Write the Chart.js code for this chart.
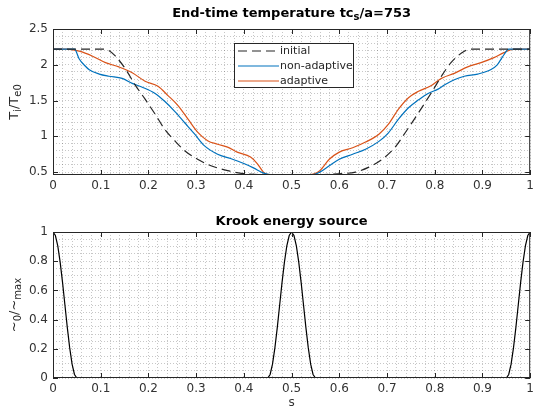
<!DOCTYPE html>
<html>
<head>
<meta charset="utf-8">
<script src="https://cdn.jsdelivr.net/npm/chart.js@4.4.1/dist/chart.umd.min.js"></script>
<style>
  body { margin: 0; background: #fff; }
  #wrap { position: relative; width: 538px; height: 410px; }
  canvas { position: absolute; left: 0; }
</style>
</head>
<body>
<div id="wrap">
  <canvas id="top" width="538" height="205" style="top:0"></canvas>
  <canvas id="bot" width="538" height="205" style="top:205px"></canvas>
</div>
<script>
// end-time temperature, T_i/T_e0 against s
var sInitial = [0, 0.103, 0.117, 0.131, 0.152, 0.172, 0.193, 0.214, 0.234, 0.255, 0.276, 0.303, 0.331, 0.366, 0.4, 0.45, 0.55, 0.607, 0.634, 0.662, 0.69, 0.717, 0.738, 0.766, 0.793, 0.814, 0.834, 0.862, 0.876, 0.9, 1];
var tInitial = [2.22, 2.22, 2.2, 2.12, 1.94, 1.72, 1.52, 1.31, 1.10, 0.94, 0.80, 0.68, 0.59, 0.52, 0.48, 0.465, 0.465, 0.48, 0.5, 0.57, 0.68, 0.85, 1.05, 1.33, 1.61, 1.84, 2.03, 2.19, 2.22, 2.22, 2.22];

var sNonAdaptive = [0, 0.045, 0.055, 0.065, 0.076, 0.097, 0.117, 0.145, 0.166, 0.186, 0.214, 0.234, 0.255, 0.276, 0.297, 0.317, 0.345, 0.372, 0.4, 0.42, 0.44, 0.455, 0.545, 0.559, 0.579, 0.6, 0.628, 0.655, 0.683, 0.703, 0.724, 0.745, 0.766, 0.786, 0.807, 0.821, 0.841, 0.862, 0.89, 0.917, 0.931, 0.945, 0.955, 1];
var tNonAdaptive = [2.22, 2.22, 2.08, 2.0, 1.93, 1.87, 1.84, 1.81, 1.74, 1.69, 1.60, 1.49, 1.35, 1.19, 1.03, 0.87, 0.75, 0.69, 0.62, 0.56, 0.49, 0.465, 0.465, 0.5, 0.59, 0.68, 0.75, 0.82, 0.93, 1.05, 1.24, 1.40, 1.51, 1.60, 1.66, 1.72, 1.79, 1.84, 1.87, 1.93, 2.0, 2.14, 2.22, 2.22];

var sAdaptive = [0, 0.028, 0.055, 0.083, 0.11, 0.138, 0.166, 0.193, 0.22, 0.241, 0.262, 0.283, 0.303, 0.324, 0.345, 0.366, 0.386, 0.414, 0.428, 0.441, 0.452, 0.538, 0.559, 0.579, 0.6, 0.628, 0.655, 0.683, 0.703, 0.724, 0.745, 0.766, 0.793, 0.814, 0.841, 0.869, 0.897, 0.924, 0.945, 0.966, 1];
var tAdaptive = [2.22, 2.22, 2.19, 2.12, 2.03, 1.97, 1.89, 1.77, 1.70, 1.57, 1.43, 1.24, 1.06, 0.94, 0.89, 0.85, 0.78, 0.71, 0.62, 0.5, 0.465, 0.465, 0.52, 0.68, 0.78, 0.84, 0.92, 1.03, 1.17, 1.38, 1.54, 1.63, 1.71, 1.81, 1.88, 1.97, 2.03, 2.10, 2.17, 2.22, 2.22];

// krook energy source
var sKrook = [0, 0.005, 0.01, 0.015, 0.02, 0.025, 0.03, 0.035, 0.04, 0.045, 0.05,
  0.45, 0.455, 0.46, 0.465, 0.47, 0.475, 0.48, 0.485, 0.49, 0.495, 0.5, 0.505, 0.51, 0.515, 0.52, 0.525, 0.53, 0.535, 0.54, 0.545, 0.55,
  0.95, 0.955, 0.96, 0.965, 0.97, 0.975, 0.98, 0.985, 0.99, 0.995, 1];
var gKrook = [1, 0.976, 0.905, 0.794, 0.655, 0.5, 0.345, 0.206, 0.095, 0.024, 0,
  0, 0.024, 0.095, 0.206, 0.345, 0.5, 0.655, 0.794, 0.905, 0.976, 1, 0.976, 0.905, 0.794, 0.655, 0.5, 0.345, 0.206, 0.095, 0.024, 0,
  0, 0.024, 0.095, 0.206, 0.345, 0.5, 0.655, 0.794, 0.905, 0.976, 1];

var xTicks = [0, 0.1, 0.2, 0.3, 0.4, 0.5, 0.6, 0.7, 0.8, 0.9, 1];
var yTicksTop = [0.5, 1, 1.5, 2, 2.5];
var yTicksBot = [0, 0.2, 0.4, 0.6, 0.8, 1];

var FONT = "'DejaVu Sans', sans-serif";
Chart.defaults.font.family = FONT;
Chart.defaults.font.size = 12;
Chart.defaults.color = '#333';

function pts(xs, ys) {
  var out = [];
  for (var i = 0; i < xs.length; i++) out.push({x: xs[i], y: ys[i]});
  return out;
}

function isMajor(v, list) {
  for (var i = 0; i < list.length; i++) if (Math.abs(v - list[i]) < 1e-6) return true;
  return false;
}

// text with subscripts, parts = [[text, isSub], ...]
function drawRich(ctx, parts, x, y, size, bold, rotate) {
  var base = (bold ? 'bold ' : '') + size + 'px ' + FONT;
  var sub = (bold ? 'bold ' : '') + Math.round(size * 0.75) + 'px ' + FONT;
  ctx.save();
  ctx.translate(x, y);
  if (rotate) ctx.rotate(-Math.PI / 2);
  var w = 0;
  parts.forEach(function(p) { ctx.font = p[1] ? sub : base; w += ctx.measureText(p[0]).width; });
  var cx = -w / 2;
  ctx.fillStyle = bold ? '#000' : '#262626';
  ctx.textBaseline = 'alphabetic';
  ctx.textAlign = 'left';
  parts.forEach(function(p) {
    ctx.font = p[1] ? sub : base;
    ctx.fillText(p[0], cx, p[1] ? 3 : 0);
    cx += ctx.measureText(p[0]).width;
  });
  ctx.restore();
}

var framePlugin = {
  id: 'frame',
  afterDraw: function(chart, args, opts) {
    var ctx = chart.ctx, a = chart.chartArea;
    var xs = chart.scales.x, ys = chart.scales.y;
    ctx.save();
    ctx.strokeStyle = '#262626';
    ctx.lineWidth = 1;
    ctx.beginPath();
    xTicks.forEach(function(v) {
      var px = Math.round(xs.getPixelForValue(v)) + 0.5;
      ctx.moveTo(px, a.bottom); ctx.lineTo(px, a.bottom - 5);
      ctx.moveTo(px, a.top); ctx.lineTo(px, a.top + 5);
    });
    opts.yt.forEach(function(v) {
      var py = Math.round(ys.getPixelForValue(v)) + 0.5;
      ctx.moveTo(a.left, py); ctx.lineTo(a.left + 5, py);
      ctx.moveTo(a.right, py); ctx.lineTo(a.right - 5, py);
    });
    ctx.stroke();
    ctx.strokeRect(a.left + 0.5, a.top + 0.5, a.right - a.left - 1, a.bottom - a.top - 1);
    ctx.restore();
    drawRich(ctx, opts.title, (a.left + a.right) / 2, opts.titleY, 13, true, false);
    drawRich(ctx, opts.ylab, 18, (a.top + a.bottom) / 2, 13, false, true);
    if (opts.legend) {
      ctx.save();
      ctx.fillStyle = '#fff';
      ctx.fillRect(234.5, 43.5, 119, 44);
      ctx.strokeStyle = '#262626';
      ctx.strokeRect(234.5, 43.5, 119, 44);
      chart.data.datasets.forEach(function(ds, i) {
        var y = 51 + i * 15;
        ctx.beginPath();
        ctx.strokeStyle = ds.borderColor;
        ctx.lineWidth = ds.borderWidth;
        ctx.setLineDash(ds.borderDash || []);
        ctx.moveTo(238, y); ctx.lineTo(279, y);
        ctx.stroke();
        ctx.setLineDash([]);
        ctx.fillStyle = '#262626';
        ctx.font = '11px ' + FONT;
        ctx.textBaseline = 'middle';
        ctx.fillText(ds.label, 280, y);
      });
      ctx.restore();
    }
  }
};

function gridScale(min, max, step, major, xAxis, h) {
  return {
    type: 'linear', min: min, max: max,
    border: { display: false, dash: [1, 2] },
    grid: { color: 'rgba(0,0,0,0.22)', drawTicks: false, lineWidth: 1 },
    ticks: {
      stepSize: step, autoSkip: false, maxRotation: 0, padding: xAxis ? 4 : 5, includeBounds: false,
      font: { size: 12 }, color: '#333',
      callback: function(v) { return isMajor(v, major) ? String(Math.round(v * 10) / 10) : ''; }
    },
    afterFit: function(s) { if (xAxis) s.height = h; else s.width = 53; }
  };
}

new Chart(document.getElementById('top'), {
  type: 'line',
  data: {
    datasets: [
      { label: 'initial', data: pts(sInitial, tInitial), borderColor: '#262626', borderWidth: 1.2, borderDash: [9, 5] },
      { label: 'non-adaptive', data: pts(sNonAdaptive, tNonAdaptive), borderColor: '#0072BD', borderWidth: 1.2 },
      { label: 'adaptive', data: pts(sAdaptive, tAdaptive), borderColor: '#D95319', borderWidth: 1.2 }
    ]
  },
  options: {
    responsive: false, animation: false, devicePixelRatio: 1,
    layout: { padding: { top: 29, right: 1, left: 0, bottom: 0 } },
    elements: { point: { radius: 0 }, line: { cubicInterpolationMode: 'monotone' } },
    scales: {
      x: gridScale(0, 1, 0.02, xTicks, true, 30),
      y: gridScale(0.46, 2.5, 0.1, yTicksTop, false)
    },
    plugins: {
      legend: { display: false }, tooltip: { enabled: false },
      frame: {
        yt: yTicksTop, legend: true, titleY: 17,
        title: [['End-time temperature tc', false], ['s', true], ['/a=753', false]],
        ylab: [['T', false], ['i', true], ['/T', false], ['e0', true]]
      }
    }
  },
  plugins: [framePlugin]
});

var botX = gridScale(0, 1, 0.02, xTicks, true, 32);
botX.title = { display: true, text: 's', font: { size: 12 }, color: '#333', padding: { top: 0, bottom: 0 } };

new Chart(document.getElementById('bot'), {
  type: 'line',
  data: {
    datasets: [
      { label: 'krook', data: pts(sKrook, gKrook), borderColor: '#000', borderWidth: 1.2 }
    ]
  },
  options: {
    responsive: false, animation: false, devicePixelRatio: 1,
    layout: { padding: { top: 27, right: 1, left: 0, bottom: 0 } },
    elements: { point: { radius: 0 } },
    scales: {
      x: botX,
      y: gridScale(0, 1, 0.05, yTicksBot, false)
    },
    plugins: {
      legend: { display: false }, tooltip: { enabled: false },
      frame: {
        yt: yTicksBot, legend: false, titleY: 20,
        title: [['Krook energy source', false]],
        ylab: [['~', false], ['0', true], ['/~', false], ['max', true]]
      }
    }
  },
  plugins: [framePlugin]
});
</script>
</body>
</html>
